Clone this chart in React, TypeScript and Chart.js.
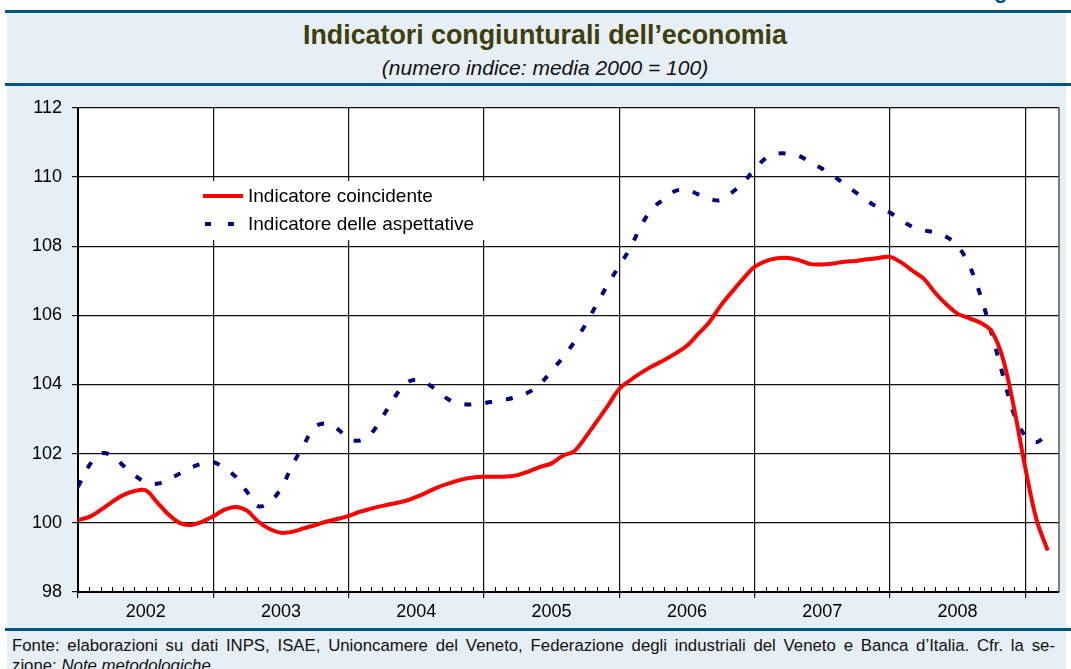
import React, { useEffect, useRef } from "react";
import { Chart, registerables } from "chart.js";

Chart.register(...registerables);

// ---- data (monthly, Jan 2002 – Mar 2009) ----
const anni = ["2002", "2003", "2004", "2005", "2006", "2007", "2008"];
const mesiAsse = 87; // months on the axis: Jan 2002 .. Mar 2009
const yMin = 98;
const yMax = 112;
const yStep = 2;
const serieNomi = ["Indicatore coincidente", "Indicatore delle aspettative"];

const coincidente = [
  100.08, 100.17, 100.37, 100.6, 100.8, 100.92, 100.94, 100.6, 100.25, 100.0, 99.94, 100.03,
  100.19, 100.38, 100.46, 100.35, 100.03, 99.82, 99.71, 99.74, 99.84, 99.93, 100.03, 100.11,
  100.2, 100.32, 100.41, 100.49, 100.56, 100.63, 100.75, 100.89, 101.04, 101.15, 101.25, 101.31,
  101.33, 101.33, 101.34, 101.38, 101.49, 101.62, 101.72, 101.94, 102.07, 102.47, 102.93, 103.39,
  103.87, 104.13, 104.35, 104.54, 104.71, 104.9, 105.12, 105.46, 105.81, 106.28, 106.68, 107.06,
  107.4, 107.57, 107.65, 107.66, 107.59, 107.48, 107.47, 107.5, 107.55, 107.57, 107.62, 107.66,
  107.69, 107.53, 107.29, 107.06, 106.66, 106.32, 106.05, 105.92, 105.79, 105.55, 104.78, 103.34,
  101.61, 100.1, 99.2,
];

const aspettative = [
  101.04, 101.66, 102.0, 101.95, 101.66, 101.38, 101.18, 101.13, 101.25, 101.42, 101.59, 101.71,
  101.76, 101.57, 101.33, 100.89, 100.48, 100.6, 100.99, 101.66, 102.24, 102.77, 102.87, 102.72,
  102.43, 102.38, 102.58, 103.06, 103.59, 104.02, 104.14, 104.02, 103.78, 103.54, 103.44, 103.42,
  103.46, 103.52, 103.57, 103.65, 103.78, 104.02, 104.4, 104.78, 105.22, 105.73, 106.32, 106.9,
  107.43, 107.96, 108.63, 109.11, 109.36, 109.6, 109.62, 109.5, 109.37, 109.33, 109.55, 109.84,
  110.22, 110.54, 110.67, 110.67, 110.6, 110.41, 110.24, 110.03, 109.79, 109.55, 109.31, 109.11,
  108.97, 108.75, 108.56, 108.46, 108.39, 108.27, 108.01, 107.48, 106.61, 105.5, 104.3, 103.15,
  102.52, 102.33, 102.6,
];

const FONT = "Arial, 'Liberation Sans', Helvetica, sans-serif";
const BLU = "#00567f";
const PANEL = "#e6eef6";
const CANVAS_TOP = 87;

export default function App() {
  const ref = useRef<HTMLCanvasElement>(null);

  useEffect(() => {
    document.body.style.margin = "0";
    const canvas = ref.current;
    if (!canvas) return;

    const plotBg = {
      id: "plotBg",
      beforeDraw(chart: any) {
        const { ctx, chartArea: a } = chart;
        ctx.save();
        ctx.fillStyle = "#ffffff";
        ctx.fillRect(a.left, a.top, a.right - a.left, a.bottom - a.top);
        ctx.restore();
      },
    };

    const extras = {
      id: "extras",
      afterDatasetsDraw(chart: any) {
        const { ctx } = chart;
        const off = CANVAS_TOP;
        ctx.save();
        // legend box
        ctx.fillStyle = "#ffffff";
        ctx.fillRect(185, 181 - off, 310, 59);
        // red sample
        ctx.strokeStyle = "#ff0000";
        ctx.lineWidth = 4;
        ctx.lineCap = "butt";
        ctx.beginPath();
        ctx.moveTo(203, 196 - off);
        ctx.lineTo(243, 196 - off);
        ctx.stroke();
        // blue sample
        ctx.strokeStyle = "#000080";
        ctx.setLineDash([6, 17]);
        ctx.beginPath();
        ctx.moveTo(205, 224 - off);
        ctx.lineTo(243, 224 - off);
        ctx.stroke();
        ctx.setLineDash([]);
        ctx.fillStyle = "#000000";
        ctx.font = "19px " + FONT;
        ctx.textBaseline = "middle";
        ctx.textAlign = "left";
        ctx.fillText(serieNomi[0], 248, 197 - off);
        ctx.fillText(serieNomi[1], 248, 225 - off);
        ctx.restore();
      },
      afterDraw(chart: any) {
        const { ctx, chartArea: a } = chart;
        const xs = chart.scales.x;
        ctx.save();
        // inner monthly tick marks
        ctx.strokeStyle = "#000000";
        ctx.lineWidth = 1;
        for (let m = 1; m < mesiAsse; m++) {
          if (m % 12 === 0) continue;
          const px = Math.round(xs.getPixelForValue(m)) + 0.5;
          ctx.beginPath();
          ctx.moveTo(px, a.bottom - 5);
          ctx.lineTo(px, a.bottom);
          ctx.stroke();
        }
        // right border
        ctx.strokeStyle = "#555555";
        ctx.lineWidth = 1.5;
        ctx.beginPath();
        ctx.moveTo(a.right, a.top);
        ctx.lineTo(a.right, a.bottom);
        ctx.stroke();
        ctx.restore();
      },
    };

    const chart = new Chart(canvas, {
      type: "line",
      data: {
        datasets: [
          {
            label: serieNomi[0],
            data: coincidente.map((v, i) => ({ x: i, y: v })),
            borderColor: "#ff0000",
            borderWidth: 4,
            pointRadius: 0,
            tension: 0.35,
            fill: false,
          },
          {
            label: serieNomi[1],
            data: aspettative.map((v, i) => ({ x: i, y: v })),
            borderColor: "#000080",
            borderWidth: 4,
            borderDash: [7, 14],
            borderCapStyle: "butt",
            pointRadius: 0,
            tension: 0.35,
            fill: false,
          },
        ],
      },
      options: {
        animation: false,
        responsive: false,
        events: [],
        layout: { padding: { top: 20, right: 12, left: 0, bottom: 0 } },
        plugins: { legend: { display: false }, tooltip: { enabled: false } },
        scales: {
          x: {
            type: "linear",
            min: 0,
            max: mesiAsse,
            afterBuildTicks(scale: any) {
              const t: any[] = [];
              for (let v = 0; v <= 84; v += 6) t.push({ value: v });
              scale.ticks = t;
            },
            afterFit(scale: any) {
              scale.height = 36;
            },
            grid: {
              color: (c: any) => (c.tick && c.tick.value % 12 === 0 ? "#111111" : "rgba(0,0,0,0)"),
              tickColor: (c: any) => (c.tick && c.tick.value % 12 === 0 ? "#111111" : "rgba(0,0,0,0)"),
              lineWidth: 1.2,
              tickLength: 6,
            },
            border: { color: "#000000", width: 2 },
            ticks: {
              autoSkip: false,
              maxRotation: 0,
              padding: 3,
              color: "#000000",
              font: { family: FONT, size: 18 },
              callback: (value: any) => {
                const k = (Number(value) - 6) / 12;
                return Number.isInteger(k) && anni[k] ? anni[k] : "";
              },
            },
          },
          y: {
            min: yMin,
            max: yMax,
            afterFit(scale: any) {
              scale.width = 78;
            },
            grid: { color: "#111111", lineWidth: 1.2, tickLength: 6, tickColor: "#111111" },
            border: { color: "#000000", width: 2 },
            ticks: {
              stepSize: yStep,
              padding: 10,
              color: "#000000",
              font: { family: FONT, size: 18 },
            },
          },
        },
      },
      plugins: [plotBg, extras],
    } as any);

    return () => chart.destroy();
  }, []);

  return (
    <div
      style={{
        position: "relative",
        width: 1071,
        height: 669,
        overflow: "hidden",
        background: "#ffffff",
        fontFamily: FONT,
      }}
    >
      <div
        style={{
          position: "absolute",
          left: 994,
          top: -20,
          fontSize: 22,
          lineHeight: "22px",
          fontWeight: "bold",
          color: BLU,
        }}
      >
        g
      </div>
      <div style={{ position: "absolute", left: 7, top: 13, width: 1059, height: 656, background: PANEL }} />
      <div style={{ position: "absolute", left: 5, top: 10, width: 1066, height: 3, background: BLU }} />
      <div
        style={{
          position: "absolute",
          left: 0,
          width: 1090,
          top: 20,
          textAlign: "center",
          fontSize: 26.8,
          lineHeight: "30px",
          fontWeight: "bold",
          color: "#3f3f0c",
        }}
      >
        Indicatori congiunturali dell’economia
      </div>
      <div
        style={{
          position: "absolute",
          left: 0,
          width: 1090,
          top: 56,
          textAlign: "center",
          fontSize: 21,
          lineHeight: "24px",
          fontStyle: "italic",
          color: "#111111",
        }}
      >
        (numero indice: media 2000 = 100)
      </div>
      <div style={{ position: "absolute", left: 5, top: 83, width: 1066, height: 3, background: BLU }} />
      <canvas
        ref={ref}
        width={1071}
        height={541}
        style={{ position: "absolute", left: 0, top: CANVAS_TOP, width: 1071, height: 541 }}
      />
      <div style={{ position: "absolute", left: 5, top: 628, width: 1066, height: 3, background: BLU }} />
      <div
        style={{
          position: "absolute",
          left: 12,
          top: 636,
          width: 1043,
          fontSize: 16.8,
          lineHeight: "20px",
          color: "#111111",
          textAlign: "justify",
          textAlignLast: "justify" as any,
          whiteSpace: "normal",
        }}
      >
        Fonte: elaborazioni su dati INPS, ISAE, Unioncamere del Veneto, Federazione degli industriali del Veneto e
        Banca d’Italia. Cfr. la se-
      </div>
      <div
        style={{
          position: "absolute",
          left: 12,
          top: 656,
          fontSize: 16.8,
          lineHeight: "20px",
          color: "#111111",
        }}
      >
        zione: <i>Note metodologiche</i>
      </div>
    </div>
  );
}
